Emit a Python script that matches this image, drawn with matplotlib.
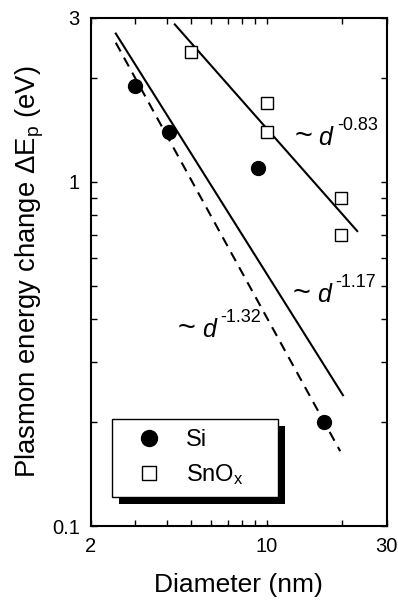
import numpy as np
import matplotlib
matplotlib.use('Agg')
import matplotlib.pyplot as plt
from matplotlib.patches import Rectangle
from matplotlib.transforms import IdentityTransform
from matplotlib.ticker import FixedLocator, NullFormatter

plt.rcParams['font.family'] = ['Liberation Sans', 'DejaVu Sans']
plt.rcParams['mathtext.fontset'] = 'custom'
plt.rcParams['mathtext.rm'] = 'Liberation Sans'
plt.rcParams['mathtext.it'] = 'Liberation Sans:italic'

# measured points
si_d = [3.0, 4.1, 9.25, 16.9]
si_e = [1.90, 1.40, 1.10, 0.20]
snox_d = [5.0, 10.0, 10.0, 19.8, 19.8]
snox_e = [2.39, 1.70, 1.40, 0.90, 0.70]

# power-law fit lines (end points)
snox_fit_d = [4.31, 22.9]
snox_fit_e = [2.87, 0.72]
si_fit_d = [2.51, 20.1]
si_fit_e = [2.70, 0.24]
si_fit2_d = [2.51, 19.6]
si_fit2_e = [2.54, 0.165]

fit_labels = ['-0.83', '-1.17', '-1.32']
fit_label_pos = [(12.9, 1.28), (12.7, 0.447), (4.43, 0.354)]

x_major = [2, 10, 30]
x_minor = [3, 4, 5, 6, 7, 8, 9, 20]
y_major = [0.1, 1, 3]
y_minor = [0.2, 0.3, 0.4, 0.5, 0.6, 0.7, 0.8, 0.9, 2]

fig = plt.figure(figsize=(3.98, 6.0), dpi=100)
ax = fig.add_axes([0.2286, 0.1233, 0.743, 0.847])
ax.set_xscale('log')
ax.set_yscale('log')
ax.set_xlim(2, 30)
ax.set_ylim(0.1, 3)

ax.plot(snox_fit_d, snox_fit_e, color='black', lw=1.5)
ax.plot(si_fit_d, si_fit_e, color='black', lw=1.5)
ax.plot(si_fit2_d, si_fit2_e, color='black', lw=1.5, dashes=[4.8, 3.4])

si_h, = ax.plot(si_d, si_e, 'o', color='black', ms=10, label='Si', zorder=3)
sn_h, = ax.plot(snox_d, snox_e, 's', mfc='white', mec='black', mew=1.0, ms=9,
                label='SnO$_{\\mathrm{x}}$', zorder=3)

ax.xaxis.set_major_locator(FixedLocator(x_major))
ax.xaxis.set_minor_locator(FixedLocator(x_minor))
ax.yaxis.set_major_locator(FixedLocator(y_major))
ax.yaxis.set_minor_locator(FixedLocator(y_minor))
ax.set_xticklabels([str(v) for v in x_major])
ax.set_yticklabels([str(v) for v in y_major])
ax.xaxis.set_minor_formatter(NullFormatter())
ax.yaxis.set_minor_formatter(NullFormatter())
ax.tick_params(which='both', direction='in', top=True, right=True,
               length=4.5, width=1.0, labelsize=14.5, pad=8)
for s in ax.spines.values():
    s.set_linewidth(1.5)

ax.set_xlabel('Diameter (nm)', fontsize=19, labelpad=12)
ax.set_ylabel('Plasmon energy change \u0394E$_{\\mathrm{p}}$ (eV)', fontsize=19.8, labelpad=4)

leg = ax.legend(handles=[si_h, sn_h], loc='lower left',
                bbox_to_anchor=(0.071, 0.0565, 0.561, 0.16), mode='expand',
                borderaxespad=0, fontsize=17, fancybox=False, framealpha=1,
                edgecolor='black', handlelength=2.2, handletextpad=0.5,
                borderpad=0.45, labelspacing=0.45, markerscale=1.15)
leg.get_frame().set_linewidth(1.0)


def place_after(prev, s, gap=2, dy=0, **kw):
    # put a text right after the previous one (pixels -> data)
    fig.canvas.draw()
    bb = prev.get_window_extent()
    base = ax.transData.transform(prev.get_position())[1]
    xd, yd = ax.transData.inverted().transform((bb.x1 + gap, base + dy))
    return ax.text(xd, yd, s, ha='left', va='baseline', **kw)


# "~ d^p" labels
for p, (x, y) in zip(fit_labels, fit_label_pos):
    t = ax.text(x, y, '~', fontsize=22, ha='left', va='baseline')
    t = place_after(t, '$d$', gap=6, fontsize=18)
    place_after(t, p, gap=2, dy=15, fontsize=13)

# solid black drop shadow of legend box
fig.canvas.draw()
lb = leg.get_window_extent()
shadow = Rectangle((lb.x0 + 7, lb.y0 - 7), lb.width, lb.height,
                   transform=IdentityTransform(), facecolor='black',
                   edgecolor='none', zorder=4.5, clip_on=False)
ax.add_artist(shadow)

fig.savefig('out.png', dpi=100)
